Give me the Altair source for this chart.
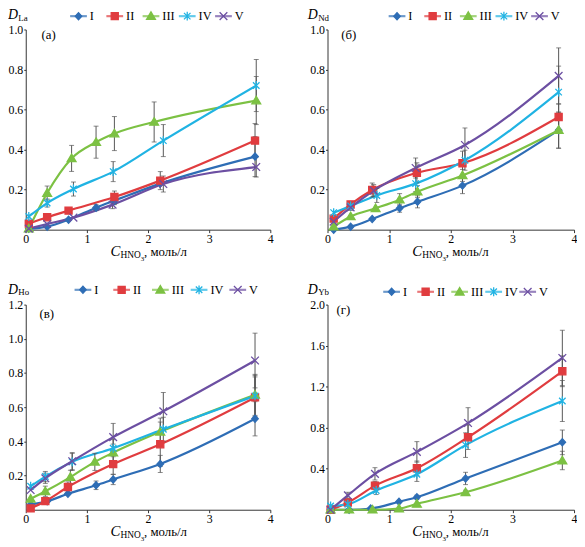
import altair as alt
import pandas as pd

FONT = "Liberation Serif"
SERIES = ["I", "II", "III", "IV", "V"]
COLORS = ["#2e6db5", "#e03c3f", "#7cc143", "#20b3e3", "#6c4fa2"]
ERR_COLOR = "#555555"

POINT_PATHS = [
    "M0,-1.2L1.1,0L0,1.2L-1.1,0Z",
    "M-1.2,-1.2L1.2,-1.2L1.2,1.2L-1.2,1.2Z",
    "M0,-1.45L1.5,1.1L-1.5,1.1Z",
    "M-1.1,-1.1L1.1,1.1M-1.1,1.1L1.1,-1.1M0,-1.5L0,1.5",
    "M-1.3,-1.3L1.3,1.3M-1.3,1.3L1.3,-1.3",
]

LA_X = {"I": [0.05, 0.35, 0.7, 1.15, 1.45, 2.2, 3.75],
        "II": [0.05, 0.35, 0.7, 1.45, 2.2, 3.75],
        "III": [0.05, 0.35, 0.75, 1.15, 1.45, 2.1, 3.77],
        "IV": [0.05, 0.35, 0.78, 1.43, 2.25, 3.77],
        "V": [0.05, 0.35, 0.78, 1.42, 2.25, 3.77]}
LA_Y = {"I": [0.005, 0.015, 0.05, 0.11, 0.145, 0.23, 0.365],
        "II": [0.03, 0.062, 0.095, 0.163, 0.245, 0.445],
        "III": [0.005, 0.183, 0.356, 0.437, 0.48, 0.538, 0.645],
        "IV": [0.066, 0.133, 0.203, 0.29, 0.445, 0.72],
        "V": [0.005, 0.028, 0.06, 0.125, 0.228, 0.313]}
LA_E = {"I": [0, 0, 0, 0.015, 0.02, 0, 0.1],
        "II": [0, 0, 0, 0.03, 0.045, 0.085],
        "III": [0, 0.035, 0.065, 0.08, 0.085, 0.1, 0.12],
        "IV": [0, 0.02, 0.035, 0.05, 0.08, 0.13],
        "V": [0, 0, 0, 0.02, 0.04, 0.05]}

ND_X = {"I": [0.1, 0.375, 0.725, 1.17, 1.46, 2.19, 3.75],
        "II": [0.1, 0.375, 0.725, 1.45, 2.19, 3.75],
        "III": [0.1, 0.375, 0.78, 1.17, 1.46, 2.19, 3.75],
        "IV": [0.1, 0.375, 0.8, 1.43, 2.23, 3.75],
        "V": [0.1, 0.375, 0.75, 1.43, 2.23, 3.75]}
ND_Y = {"I": [0.0, 0.015, 0.053, 0.107, 0.139, 0.22, 0.497],
        "II": [0.055, 0.126, 0.198, 0.284, 0.332, 0.563],
        "III": [0.015, 0.066, 0.107, 0.15, 0.19, 0.271, 0.497],
        "IV": [0.085, 0.118, 0.171, 0.23, 0.347, 0.687],
        "V": [0.04, 0.111, 0.195, 0.308, 0.423, 0.768]}
ND_E = {"I": [0, 0, 0, 0.02, 0.03, 0.04, 0.09],
        "II": [0.015, 0.015, 0.035, 0.05, 0.06, 0.065],
        "III": [0, 0, 0, 0.03, 0.03, 0.03, 0.09],
        "IV": [0, 0.015, 0.035, 0.04, 0.05, 0.13],
        "V": [0, 0.015, 0.03, 0.05, 0.085, 0.14]}

HO_X = {"I": [0.08, 0.35, 0.69, 1.15, 1.43, 2.2, 3.75],
        "II": [0.08, 0.32, 0.69, 1.43, 2.2, 3.75],
        "III": [0.08, 0.32, 0.73, 1.13, 1.43, 2.2, 3.75],
        "IV": [0.08, 0.32, 0.76, 1.43, 2.25, 3.75],
        "V": [0.08, 0.32, 0.76, 1.43, 2.25, 3.75]}
HO_Y = {"I": [0.031, 0.05, 0.093, 0.143, 0.177, 0.268, 0.532],
        "II": [0.008, 0.05, 0.133, 0.267, 0.383, 0.657],
        "III": [0.064, 0.108, 0.191, 0.28, 0.334, 0.456, 0.672],
        "IV": [0.137, 0.194, 0.28, 0.36, 0.471, 0.666],
        "V": [0.115, 0.184, 0.284, 0.425, 0.576, 0.873]}
HO_E = {"I": [0, 0, 0, 0.025, 0.03, 0.05, 0.1],
        "II": [0, 0, 0.03, 0.06, 0.13, 0.12],
        "III": [0, 0.03, 0.04, 0.05, 0.05, 0.08, 0.12],
        "IV": [0, 0.03, 0.05, 0.05, 0.07, 0.12],
        "V": [0, 0.03, 0.05, 0.08, 0.11, 0.16]}

YB_X = {"I": [0.05, 0.35, 0.7, 1.16, 1.45, 2.24, 3.81],
        "II": [0.05, 0.33, 0.77, 1.45, 2.28, 3.81],
        "III": [0.05, 0.35, 0.73, 1.16, 1.45, 2.24, 3.81],
        "IV": [0.05, 0.33, 0.79, 1.45, 2.24, 3.81],
        "V": [0.05, 0.33, 0.77, 1.45, 2.28, 3.81]}
YB_Y = {"I": [0.0, 0.0, 0.012, 0.078, 0.122, 0.305, 0.657],
        "II": [0.0, 0.07, 0.235, 0.405, 0.707, 1.35],
        "III": [0.0, 0.0, 0.0, 0.012, 0.057, 0.17, 0.48],
        "IV": [0.036, 0.053, 0.188, 0.346, 0.63, 1.06],
        "V": [0.0, 0.14, 0.35, 0.564, 0.845, 1.48]}
YB_E = {"I": [0, 0, 0, 0, 0.02, 0.06, 0.12],
        "II": [0, 0, 0.04, 0.07, 0.12, 0.15],
        "III": [0, 0, 0, 0, 0, 0.02, 0.09],
        "IV": [0, 0, 0.04, 0.07, 0.12, 0.2],
        "V": [0, 0.03, 0.06, 0.1, 0.15, 0.27]}

X_TICKS = [0, 1, 2, 3, 4]


def frame(X, Y, E):
    rows = []
    for s in SERIES:
        for x, y, e in zip(X[s], Y[s], E[s]):
            rows.append({"series": s, "x": x, "y": y, "lo": y - e, "hi": y + e, "e": e})
    return pd.DataFrame(rows)


ONE = pd.DataFrame({"k": [0]})
LEG = pd.DataFrame({"series": SERIES})

COLOR_SCALE = alt.Scale(domain=SERIES, range=COLORS)
SHAPE_SCALE = alt.Scale(domain=SERIES, range=POINT_PATHS)


def txt(text, x, y, size, style="normal", baseline="alphabetic"):
    return alt.Chart(ONE).mark_text(
        text=text, font=FONT, fontSize=size, fontStyle=style, align="left",
        baseline=baseline, color="black"
    ).encode(x=alt.value(x), y=alt.value(y))


def panel(letter, sub, X, Y, E, ymax, yticks, W, H, lrange, cy, dx, md, lp):
    df = frame(X, Y, E)
    base = alt.Chart(df)
    xs = alt.Scale(domain=[0, 4], nice=False)
    ys = alt.Scale(domain=[0, ymax], nice=False)
    xaxis = alt.Axis(values=X_TICKS, format="d", title=None, grid=False, tickSize=3,
                     labelPadding=1, labelFlush=False,
                     labelExpr="datum.value === 0 ? '0\u00a0\u00a0\u00a0\u00a0' : datum.label")
    yaxis = alt.Axis(values=yticks, format=".1f", title=None, grid=False, tickSize=2,
                     labelPadding=1)

    def ex(field="x", axis=None):
        return alt.X(f"{field}:Q", scale=xs, axis=axis)

    def ey(field="y"):
        return alt.Y(f"{field}:Q", scale=ys, axis=yaxis)

    lines = base.mark_line(interpolate="monotone", strokeWidth=2.2).encode(
        x=ex(axis=xaxis), y=ey(),
        color=alt.Color("series:N", scale=COLOR_SCALE, legend=None),
    )
    eb = base.transform_filter("datum.e > 0")
    rules = eb.mark_rule(color=ERR_COLOR, strokeWidth=1).encode(x=ex(), y=ey("lo"), y2="hi:Q")
    cap_lo = eb.mark_tick(orient="horizontal", size=5, thickness=1, color=ERR_COLOR).encode(x=ex(), y=ey("lo"))
    cap_hi = eb.mark_tick(orient="horizontal", size=5, thickness=1, color=ERR_COLOR).encode(x=ex(), y=ey("hi"))

    shape_enc = alt.Shape("series:N", scale=SHAPE_SCALE, legend=None)
    fill_enc = alt.Fill("series:N", scale=COLOR_SCALE, legend=None)
    stroke_enc = alt.Stroke("series:N", scale=COLOR_SCALE, legend=None)

    pts = base.mark_point(filled=True, size=36, strokeWidth=1.3, opacity=1).encode(
        x=ex(), y=ey(), shape=shape_enc, fill=fill_enc, stroke=stroke_enc,
    )

    # legend row, positioned by its own point scale over the series
    lx = alt.X("series:N", scale=alt.Scale(type="point", domain=SERIES, range=lrange, padding=0), axis=None)
    leg = alt.Chart(LEG)
    leg_line = leg.mark_tick(orient="horizontal", size=17, thickness=2.2).encode(
        x=lx, y=alt.value(cy), color=alt.Color("series:N", scale=COLOR_SCALE, legend=None))
    leg_pt = leg.mark_point(filled=True, size=36, strokeWidth=1.3, opacity=1).encode(
        x=lx, y=alt.value(cy), shape=shape_enc, fill=fill_enc, stroke=stroke_enc)
    leg_txt = leg.mark_text(align="left", baseline="middle", dx=11.5, font=FONT, fontSize=12.5,
                            color="black").encode(x=lx, y=alt.value(cy), text="series:N")

    texts = [
        txt("D", dx, md, 14, "italic", baseline="middle"),
        txt(sub, dx + 10.5, md + 2.5, 9, baseline="middle"),
        txt(letter, lp[0], lp[1], 13, baseline="middle"),
        txt("C", 86, H + 27, 15, "italic"),
        txt("HNO", 96, H + 29, 9.5),
        txt("3", 116.5, H + 31.5, 7),
        txt(", моль/л", 120, H + 27, 13),
    ]
    return alt.layer(lines, rules, cap_lo, cap_hi, pts, leg_line, leg_pt, leg_txt, *texts).resolve_scale(
        x="independent"
    ).properties(width=W, height=H)


pa = panel("(а)", "La", LA_X, LA_Y, LA_E, 1.0, [0.2, 0.4, 0.6, 0.8, 1.0], 248, 203,
           [53.5, 200.5], -13.5, -18, -14.5, (16, 6))
pb = panel("(б)", "Nd", ND_X, ND_Y, ND_E, 1.0, [0.2, 0.4, 0.6, 0.8, 1.0], 250, 203,
           [70.5, 215], -13.5, -20, -14.5, (14, 6))
pc = panel("(в)", "Ho", HO_X, HO_Y, HO_E, 1.2, [0.2, 0.4, 0.6, 0.8, 1.0, 1.2], 248, 208,
           [58, 215], -15, -18, -15, (14, 10))
pd_ = panel("(г)", "Yb", YB_X, YB_Y, YB_E, 2.0, [0.4, 0.8, 1.2, 1.6, 2.0], 250, 208,
            [65, 203], -13, -20, -15, (9, 6))

row1 = alt.hconcat(pa, pb, spacing=35)
row2 = alt.hconcat(pc, pd_, spacing=35)

chart = alt.vconcat(row1, row2, spacing=20).properties(
    padding={"left": 0, "top": -4, "right": 0, "bottom": 0}
).configure_view(
    stroke=None
).configure_axis(
    labelFont=FONT, labelFontSize=12, labelColor="black",
    domainColor="#333333", tickColor="#333333", domainWidth=1, tickWidth=1
)

chart.save("out.html", embed_options={"renderer": "svg", "actions": False})
